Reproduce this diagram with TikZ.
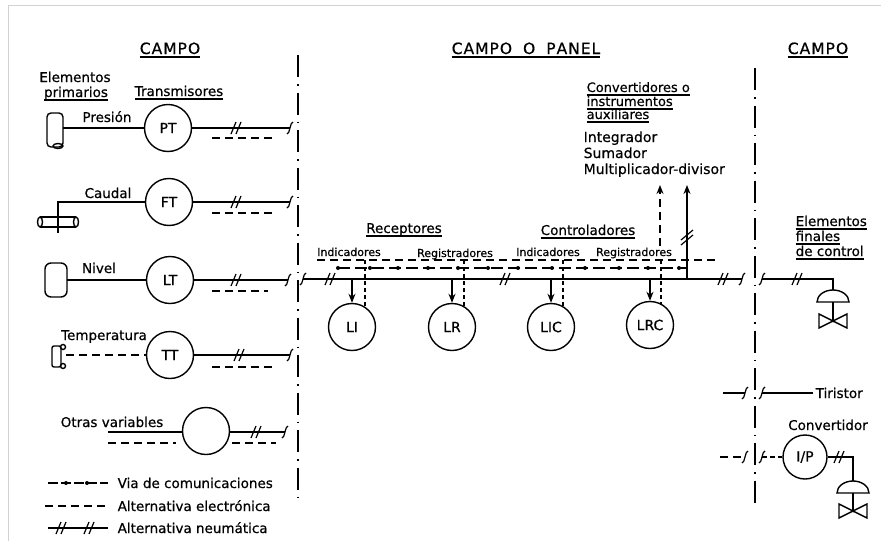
\documentclass[tikz,border=0pt]{standalone}
\usepackage{fontspec}
\setmainfont{DejaVu Sans}[UprightFeatures={FakeBold=0.6}]
\usetikzlibrary{arrows.meta}
\newcommand{\ulin}[1]{\setbox0=\hbox{#1}\rlap{\rule[-3.5pt]{\wd0}{1.3pt}}\box0}
\begin{document}
\begin{tikzpicture}[x=1pt,y=-1pt, line width=1.4pt,
  lbl/.style={font=\fontsize{13.5}{15}\selectfont, inner sep=0, anchor=base},
  lblw/.style={font=\fontsize{13.5}{15}\selectfont, inner sep=0, anchor=base west},
  sml/.style={font=\fontsize{11}{12}\selectfont, inner sep=0, anchor=base},
  hd/.style={font=\fontsize{15.5}{16}\selectfont, inner sep=0, anchor=base},
  inst/.style={circle, draw, line width=1.4pt, minimum size=47pt, inner sep=0, font=\fontsize{14}{14}\selectfont},
  dsh/.style={dash pattern=on 8pt off 5pt},
  sdsh/.style={dash pattern=on 4pt off 3pt, line width=1.1pt},
  ddot/.style={dash pattern=on 22pt off 7pt on 1.5pt off 7pt, line width=1.4pt},
  hk/.pic={\draw[line width=1.2pt] (-3,6) .. controls (0,6) and (0,-6) .. (3,-6);},
  pn/.pic={\draw[line width=1.2pt] (-6,6) -- (-1,-6) (-1,6) -- (4,-6);},
  arr/.style={-{Stealth[length=9pt,width=7pt]}},
]
\useasboundingbox (0,0) rectangle (881,541);
\draw[gray!35, line width=1pt] (8,541) -- (8,5) -- (881,5);

% headings
\node[hd] (h1) at (170,54) {\ulin{C\kern1pt A\kern1pt M\kern1pt P\kern1pt O}};
\node[hd] (h2) at (526,54) {\ulin{C\kern1pt A\kern1pt M\kern1pt P\kern1pt O\hspace{11pt}O\hspace{11pt}P\kern1pt A\kern1pt N\kern1pt E\kern1pt L}};
\node[hd] (h3) at (818,54) {\ulin{C\kern1pt A\kern1pt M\kern1pt P\kern1pt O}};

% separators
\coordinate (v1t) at (298,55); \coordinate (v1b) at (298,505);
\coordinate (v2t) at (755,68); \coordinate (v2b) at (755,503);
\draw[ddot] (v1t) -- (v1b);
\draw[ddot] (v2t) -- (v2b);

% left column titles
\node[lbl] (el1) at (75,82) {Elementos};
\node[lbl] (el2) at (76,97) {\ulin{primarios}};
\node[lbl] (tr) at (179,96) {\ulin{Transmisores}};

% PT row
\node[inst] (PT) at (168,128) {PT};
\draw[rounded corners=4pt] (47,113) rectangle (63,147);
\draw (58,146) ellipse[x radius=5, y radius=2.5];
\coordinate (pe) at (63,128);
\draw (pe) -- (PT);
\node[lbl] (lp) at (107,122) {Presión};
\coordinate (pt1) at (290,128);
\draw (PT) -- (pt1);
\pic at (237,128) {pn}; \pic at (pt1) {hk};
\draw[dsh] (212,138) -- (274,138);

% FT row
\node[inst] (FT) at (169,202) {FT};
\node[lbl] (lc) at (108,198) {Caudal};
\draw (40,217) -- (76,217) (40,227) -- (76,227);
\draw (40,222) ellipse[x radius=2.5, y radius=5];
\draw (76,222) ellipse[x radius=2.5, y radius=5];
\coordinate (fe) at (58,233); \coordinate (fk) at (58,202);
\draw (fe) -- (fk) -- (FT);
\coordinate (ft1) at (290,202);
\draw (FT) -- (ft1);
\pic at (237,202) {pn}; \pic at (ft1) {hk};
\draw[dsh] (212,213) -- (274,213);

% LT row
\node[inst] (LT) at (170,280) {LT};
\draw[rounded corners=6pt] (45,263) rectangle (67,297);
\coordinate (le) at (67,280);
\draw (le) -- (LT);
\node[lbl] (ln) at (99,273) {Nivel};
\coordinate (lt1) at (288,280);
\draw (LT) -- (lt1);
\pic at (237,280) {pn}; \pic at (lt1) {hk};
\draw[dsh] (212,291) -- (268,291);

% TT row
\node[inst] (TT) at (170,355) {TT};
\draw[rounded corners=2pt] (52,346) rectangle (61,367);
\draw (63,347) circle (2.5) (63,366) circle (2.5);
\coordinate (te) at (66,355);
\draw[dsh] (te) -- (TT);
\node[lbl] (lt) at (104,340) {Temperatura};
\coordinate (tt1) at (290,355);
\draw (TT) -- (tt1);
\pic at (240,355) {pn}; \pic at (tt1) {hk};
\draw[dsh] (212,367) -- (272,367);

% Otras variables
\node[inst] (OV) at (206,431) {};
\node[lbl] (lo) at (112,427) {Otras variables};
\coordinate (o0) at (108,432); \coordinate (o1) at (108,443);
\draw (o0) -- (OV.west |- o0);
\draw[dsh] (o1) -- (176,443);
\coordinate (ov1) at (285,432);
\draw (OV.east |- ov1) -- (ov1);
\pic at (257,432) {pn}; \pic at (ov1) {hk};
\draw[dsh] (232,443) -- (276,443);

% legend
\draw[dash pattern=on 10pt off 3pt] (48,483) -- (108,483);
\fill (66,483) circle (2) (87,483) circle (2);
\draw[dsh] (45,506) -- (108,506);
\draw (48,528) -- (108,528);
\pic at (62,528) {pn}; \pic at (90,528) {pn};
\node[lblw] (g1) at (117,488) {Via de comunicaciones};
\node[lblw] (g2) at (117,511) {Alternativa electrónica};
\node[lblw] (g3) at (117,533) {Alternativa neumática};

% central bus
\coordinate (b0) at (303,279); \coordinate (b1) at (742,279);
\draw (b0) -- (b1);
\pic at (b0) {hk}; \pic at (b1) {hk};
\pic at (331,279) {pn}; \pic at (506,279) {pn}; \pic at (724,279) {pn};
\draw[dsh] (317,260) -- (715,260);
\draw[dash pattern=on 12pt off 5pt] (338,268) -- (687,268);
\foreach \x in {338,370,398,428,458,488,518,552,585,619,648,679}
  \fill (\x,268) circle (2);

\node[lbl] (rec) at (404,233) {\ulin{Receptores}};
\node[lbl] (con) at (588,235) {\ulin{Controladores}};
\node[sml] (i1) at (349,256) {Indicadores};
\node[sml] (r1) at (455,257) {Registradores};
\node[sml] (i2) at (548,256) {Indicadores};
\node[sml] (r2) at (634,256) {Registradores};

\node[inst] (LI) at (352,327) {LI};
\node[inst] (LR) at (452,327) {LR};
\node[inst] (LIC) at (551,327) {LIC};
\node[inst] (LRC) at (650,325) {LRC};
\foreach \n in {LI,LR,LIC,LRC}
  \draw[arr] (\n.north |- b0) -- (\n.north);
\draw[sdsh] (365,260) -- (365,307);
\draw[sdsh] (464,260) -- (464,307);
\draw[sdsh] (563,260) -- (563,307);
\draw[sdsh] (661,260) -- (661,305);

% up arrows
\coordinate (ua1) at (660,185); \coordinate (ua1b) at (660,246);
\coordinate (ua2) at (687,185); \coordinate (ua2b) at (687,279);
\draw[arr, dsh] (ua1b) -- (ua1);
\draw[arr] (ua2b) -- (ua2);
\draw[line width=1.2pt] (681,245) -- (693,235) (681,240) -- (693,230);

\node[font=\fontsize{13}{13}\selectfont, inner sep=0, anchor=base west] (cv1) at (586,92) {\ulin{Convertidores o}};
\node[font=\fontsize{13}{13}\selectfont, inner sep=0, anchor=base west] (cv2) at (586,106) {\ulin{instrumentos}};
\node[font=\fontsize{13}{13}\selectfont, inner sep=0, anchor=base west] (cv3) at (586,119) {\ulin{auxiliares}};
\node[font=\fontsize{14}{14}\selectfont, inner sep=0, anchor=base west] (x1) at (583,142) {Integrador};
\node[font=\fontsize{14}{14}\selectfont, inner sep=0, anchor=base west] (x2) at (583,158) {Sumador};
\node[font=\fontsize{14}{14}\selectfont, inner sep=0, anchor=base west] (x3) at (583,174) {Multiplicador-divisor};

% right column
\node[lblw] (ef1) at (795,226) {\ulin{Elementos}};
\node[lblw] (ef2) at (795,241) {\ulin{finales}};
\node[lblw] (ef3) at (795,256) {\ulin{de control}};

\coordinate (r0) at (762,279); \coordinate (rc) at (833,279); \coordinate (d1) at (833,290);
\draw (r0) -- (rc) -- (d1);
\pic at (r0) {hk}; \pic at (798,279) {pn};
\draw (817,302) arc[start angle=180, end angle=360, x radius=16, y radius=12] -- cycle;
\draw (833,302) -- (833,321);
\draw (819,314) -- (819,328) -- (847,314) -- (847,328) -- cycle;
\fill (833,321) circle (1.5);

% tiristor
\coordinate (t0) at (723,393); \coordinate (t1) at (745,393);
\coordinate (t2) at (762,393); \coordinate (t3) at (813,393);
\draw (t0) -- (t1); \pic at (t1) {hk};
\draw (t2) -- (t3); \pic at (t2) {hk};
\node[lblw] (tir) at (815,398) {Tiristor};

% convertidor I/P
\node[lbl] (cvt) at (828,430) {Convertidor};
\node[inst, minimum size=44pt] (IP) at (805,457) {I/P};
\coordinate (c0) at (720,457); \coordinate (c1) at (745,457); \coordinate (c2) at (762,457);
\draw[dsh] (c0) -- (c1); \pic at (c1) {hk};
\pic at (c2) {hk};
\draw[dash pattern=on 5pt off 3pt] (c2) -- (IP);
\coordinate (ck) at (853,457); \coordinate (d2) at (853,481);
\draw (IP) -- (ck) -- (d2);
\pic at (840,457) {pn};
\draw (837,493) arc[start angle=180, end angle=360, x radius=16, y radius=12] -- cycle;
\draw (853,493) -- (853,511);
\draw (839,504) -- (839,518) -- (867,504) -- (867,518) -- cycle;
\fill (853,511) circle (1.5);
\end{tikzpicture}
\end{document}
